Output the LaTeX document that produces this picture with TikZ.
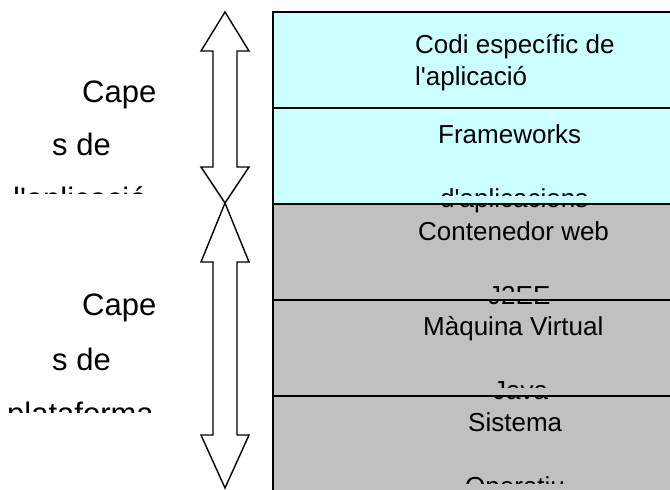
\documentclass[tikz,border=0pt]{standalone}
\usepackage{fontspec}
\setmainfont{Liberation Sans}
\definecolor{appcyan}{HTML}{CCFFFF}
\definecolor{platgray}{HTML}{C0C0C0}

\begin{document}
\begin{tikzpicture}[x = 1pt, y = -1pt,
	layer/.style = {draw, line width = 1.5pt},
	boxtext/.style = {anchor = base west, inner sep = 0pt, font = \fontsize{26}{30}\selectfont},
	sidetext/.style = {anchor = base west, inner sep = 0pt, font = \fontsize{31}{36}\selectfont},
	dblarrow/.style = {draw, fill = white, line width = 1.4pt, line join = miter}]

	\useasboundingbox (0, 0) rectangle (670, 490);
	\clip (0, 0) rectangle (670, 490);

	\foreach \ytop / \col in {12/appcyan, 108/appcyan, 204/platgray, 300/platgray, 396/platgray}
		\draw [layer, fill = \col] (273, \ytop) rectangle (700, \ytop + 96);

	\draw [dblarrow] (225, 12) -- (249, 51) -- (237, 51) -- (237, 167) -- (249, 167) -- (225, 203)
		-- (201, 167) -- (213, 167) -- (213, 51) -- (201, 51) -- cycle;
	\draw [dblarrow] (225, 203) -- (249, 262) -- (237, 262) -- (237, 435) -- (249, 435) -- (225, 488)
		-- (201, 435) -- (213, 435) -- (213, 262) -- (201, 262) -- cycle;

	\node [boxtext] (codi1) at (415, 53) {Codi específic de};
	\node [boxtext] (codi2) at (415, 85) {l\textquotesingle aplicació};
	\node [boxtext] (frame1) at (438, 143) {Frameworks};
	\node [boxtext] (web1) at (418, 240) {Contenedor web};
	\node [boxtext] (jvm1) at (423, 335) {Màquina Virtual};
	\node [boxtext] (so1) at (468, 431) {Sistema};

	\begin{scope}
		\clip (273, 0) rectangle (670, 195) (273, 204) rectangle (670, 291)
			(273, 300) rectangle (670, 387) (273, 396) rectangle (670, 483);
		\node [boxtext] (frame2) at (440, 207) {d\textquotesingle aplicacions};
		\node [boxtext] (web2) at (488, 304) {J2EE};
		\node [boxtext] (jvm2) at (493, 399) {Java};
		\node [boxtext] (so2) at (465, 495) {Operatiu};
	\end{scope}

	\node [sidetext] (appcape) at (82, 102) {Cape};
	\node [sidetext] (appsde) at (52, 155) {s de};
	\node [sidetext] (platcape) at (82, 315) {Cape};
	\node [sidetext] (platsde) at (52, 370) {s de};

	\begin{scope}
		\clip (0, 0) rectangle (200, 193) (0, 300) rectangle (200, 412);
		\node [sidetext] (appapl) at (13, 209) {l\textquotesingle aplicació};
		\node [sidetext] (platform) at (7, 424) {plataforma};
	\end{scope}

\end{tikzpicture}
\end{document}
